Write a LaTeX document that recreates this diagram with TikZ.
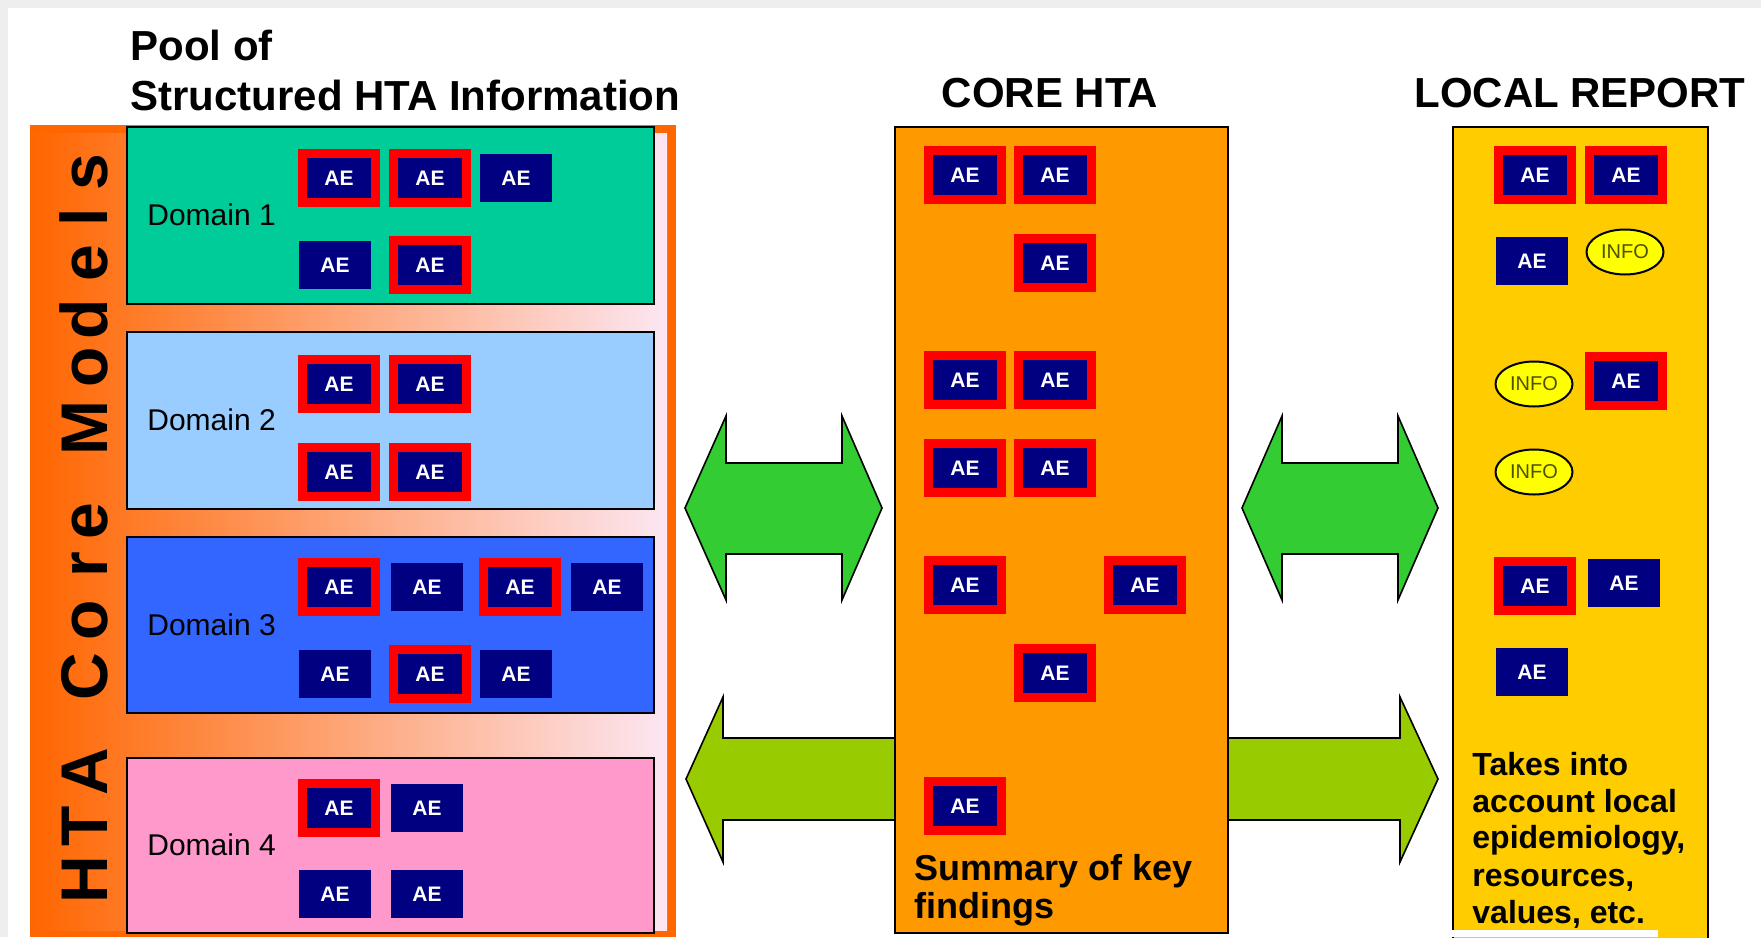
\documentclass[tikz,border=0pt]{standalone}
\usepackage{fontspec}
\setmainfont{Liberation Sans}
\usetikzlibrary{shapes.geometric}

\definecolor{bandorange}{HTML}{FF6600}
\definecolor{bandpink}{HTML}{FCE6F2}
\definecolor{domone}{HTML}{00CC99}
\definecolor{domtwo}{HTML}{99CCFF}
\definecolor{domthree}{HTML}{3366FF}
\definecolor{domfour}{HTML}{FF99CC}
\definecolor{aenavy}{HTML}{000080}
\definecolor{corefill}{HTML}{FF9900}
\definecolor{localfill}{HTML}{FFCC00}
\definecolor{infofill}{HTML}{FFFF00}
\definecolor{infotext}{HTML}{4D5200}
\definecolor{arrowgreen}{HTML}{33CC33}
\definecolor{arrowlime}{HTML}{99CC00}
\definecolor{pagegray}{HTML}{EEEEEE}

\tikzset{
  ae/.style={fill=aenavy, text=white, font=\fontsize{10.5}{12}\selectfont\bfseries,
    minimum width=36pt, minimum height=24pt, inner sep=0pt},
  aered/.style={ae, draw=red, line width=4.5pt, minimum width=36.5pt, minimum height=24.5pt},
  info/.style={ellipse, fill=infofill, draw=black, line width=1pt, text=infotext,
    font=\fontsize{10}{12}\selectfont, minimum width=38.5pt, minimum height=22.5pt, inner sep=0pt},
  title/.style={font=\fontsize{21}{25}\selectfont\bfseries, anchor=base, inner sep=0pt},
  domlabel/.style={font=\fontsize{15}{18}\selectfont, anchor=west, inner sep=0pt},
  notetext/.style={font=\fontsize{16}{18}\selectfont\bfseries, anchor=base west, inner sep=0pt},
  bandletter/.style={font=\fontsize{33}{36}\selectfont\bfseries, rotate=90, anchor=base, inner sep=0pt},
  panel/.style={draw=black, line width=1pt},
  blockarrow/.style={draw=black, line width=0.8pt, line join=miter},
}

\begin{document}
\begin{tikzpicture}[x=0.5pt, y=-0.5pt]
	\useasboundingbox (0,0) rectangle (1761,937);
	\fill[pagegray] (0,0) rectangle (1761,937);
	\fill[white] (8,8) rectangle (1761,937);

	% pool of structured information
	\fill[bandorange] (30,125) rectangle (676,937);
	\shade[left color=bandorange, right color=bandpink] (30,133) rectangle (667,930);

	\draw[panel, fill=domone] (127,127) rectangle (654,304);
	\draw[panel, fill=domtwo] (127,332) rectangle (654,509);
	\draw[panel, fill=domthree] (127,537) rectangle (654,713);
	\draw[panel, fill=domfour] (127,758) rectangle (654,933);

	\node[domlabel] (dom1) at (147,215) {Domain 1};
	\node[domlabel] (dom2) at (147,420) {Domain 2};
	\node[domlabel] (dom3) at (147,625) {Domain 3};
	\node[domlabel] (dom4) at (147,845) {Domain 4};

	\foreach \ch/\y [count=\i] in {H/880, T/826, A/772, C/677, o/620, r/565, e/521,
		M/428, o/367, d/319, e/263, l/217, s/172}
		\node[bandletter] (band\i) at (107,\y) {\ch};

	% assessment elements in the domains
	\foreach \x/\y [count=\i] in {339/178, 430/178, 430/265,
		339/384, 430/384, 339/472, 430/472,
		339/587, 520/587, 430/674,
		339/808}
		\node[aered] (pool-r\i) at (\x,\y) {AE};
	\foreach \x/\y [count=\i] in {516/178, 335/265,
		427/587, 607/587, 335/674, 516/674,
		427/808, 335/894, 427/894}
		\node[ae] (pool-p\i) at (\x,\y) {AE};

	% lower arrow, runs behind the core box
	\draw[blockarrow, fill=arrowlime] (686,779) -- (723,697) -- (723,738) -- (1400,738)
		-- (1400,697) -- (1438,779) -- (1400,862) -- (1400,820) -- (723,820)
		-- (723,862) -- cycle;

	% core hta
	\draw[panel, fill=corefill] (895,127) rectangle (1228,933);
	\foreach \x/\y [count=\i] in {965/175, 1055/175, 1055/263, 965/380, 1055/380,
		965/468, 1055/468, 965/585, 1145/585, 1055/673, 965/806}
		\node[aered] (core\i) at (\x,\y) {AE};
	\node[notetext, font=\fontsize{18}{20}\selectfont\bfseries] (sum1) at (914,880) {Summary of key};
	\node[notetext, font=\fontsize{18}{20}\selectfont\bfseries] (sum2) at (914,918) {findings};

	% local report
	\draw[panel, fill=localfill] (1453,127) rectangle (1708,945);
	\foreach \x/\y [count=\i] in {1535/175, 1626/175, 1626/381, 1535/586}
		\node[aered] (local-r\i) at (\x,\y) {AE};
	\foreach \x/\y [count=\i] in {1532/261, 1624/583, 1532/672}
		\node[ae] (local-p\i) at (\x,\y) {AE};
	\node[info] (info1) at (1625,252) {INFO};
	\node[info] (info2) at (1534,384) {INFO};
	\node[info] (info3) at (1534,472) {INFO};
	\foreach \txt/\y [count=\i] in {Takes into/775, account local/812, {epidemiology,}/848,
		{resources,}/886, {values, etc.}/923}
		\node[notetext] (note\i) at (1472,\y) {\txt};
	\fill[white] (1433,930) rectangle (1658,937);

	% exchange arrows
	\draw[blockarrow, fill=arrowgreen] (685,508) -- (726,416) -- (726,463) -- (842,463)
		-- (842,416) -- (882,508) -- (842,600) -- (842,554) -- (726,554)
		-- (726,600) -- cycle;
	\draw[blockarrow, fill=arrowgreen] (1242,508) -- (1282,416) -- (1282,463) -- (1398,463)
		-- (1398,416) -- (1438,508) -- (1398,600) -- (1398,554) -- (1282,554)
		-- (1282,600) -- cycle;

	% titles
	\node[title, anchor=base west] (pool1) at (130,60) {Pool of};
	\node[title, anchor=base west] (pool2) at (130,110) {Structured HTA Information};
	\node[title] (coretitle) at (1050,107) {CORE HTA};
	\node[title] (localtitle) at (1580,107) {LOCAL REPORT};
\end{tikzpicture}
\end{document}
